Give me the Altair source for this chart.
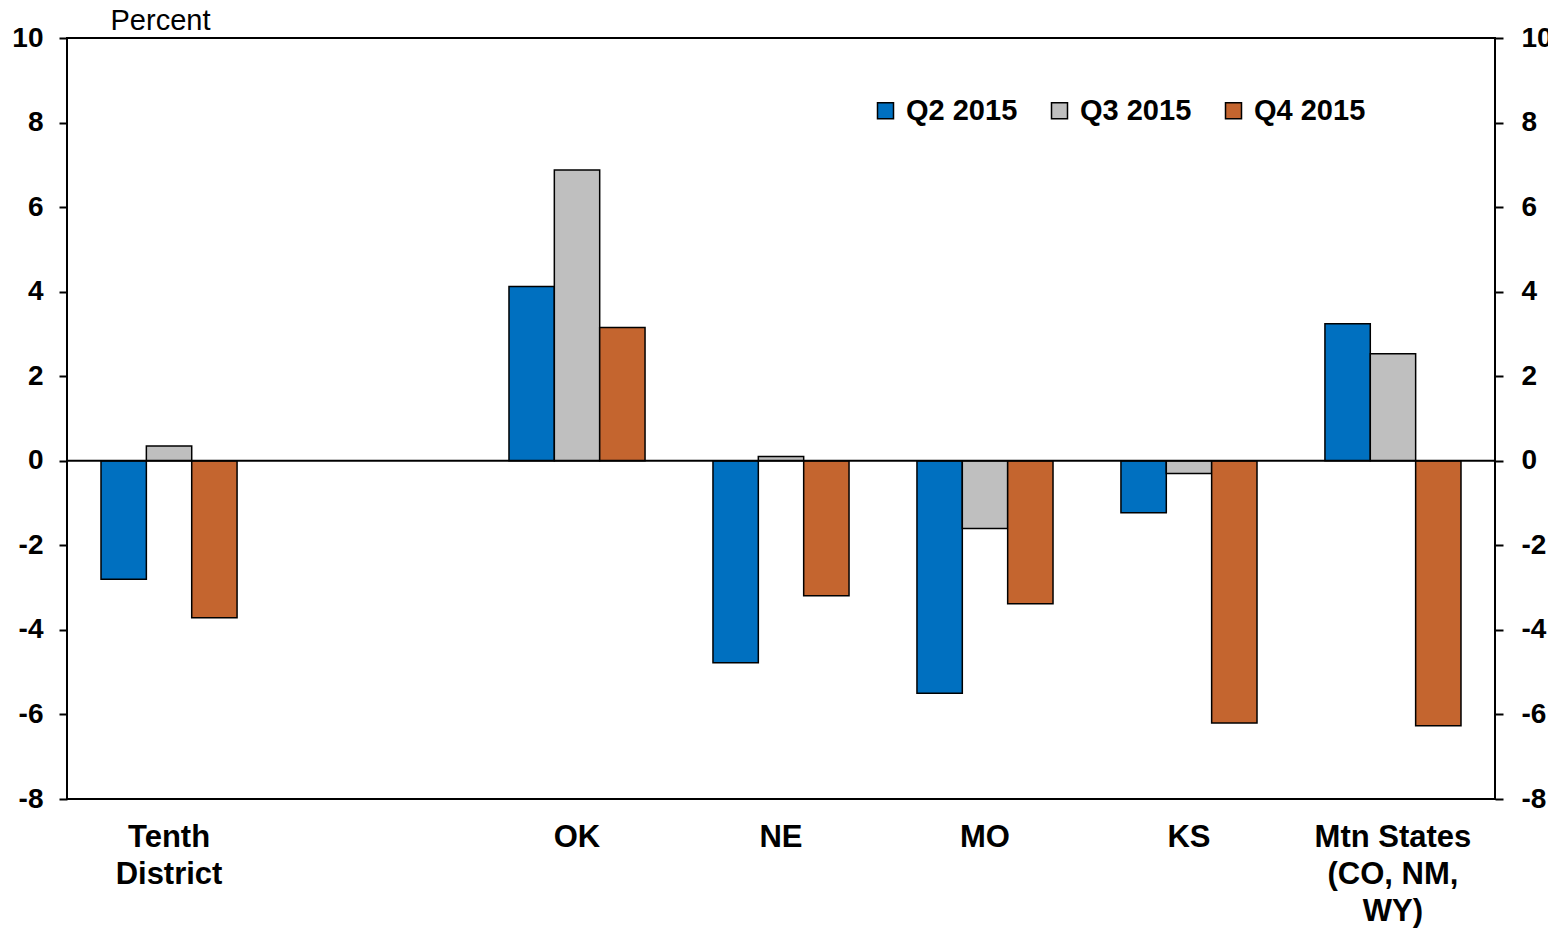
import altair as alt
import pandas as pd

categories = ["Tenth|District", " ", "OK", "NE", "MO", "KS", "Mtn States|(CO, NM,|WY)"]
quarters = ["Q2 2015", "Q3 2015", "Q4 2015"]
q2_vals = [-2.8, None, 4.12, -4.78, -5.5, -1.23, 3.24]
q3_vals = [0.35, None, 6.88, 0.1, -1.6, -0.3, 2.53]
q4_vals = [-3.71, None, 3.15, -3.19, -3.38, -6.2, -6.27]
colors = ["#0070C0", "#BFBFBF", "#C4652F"]
y_ticks = [-8, -6, -4, -2, 0, 2, 4, 6, 8, 10]

rows = []
for q, vals in zip(quarters, [q2_vals, q3_vals, q4_vals]):
    for c, v in zip(categories, vals):
        if v is not None:
            rows.append({"cat": c, "quarter": q, "value": v})
df = pd.DataFrame(rows)
zero_df = pd.DataFrame({"value": [0]})

FONT = "Liberation Sans"
yscale = alt.Scale(domain=[-8, 10], nice=False, zero=False)
ylabel_expr = "datum.value < 0 ? '-' + abs(datum.value) : '' + datum.value"

bars = alt.Chart(df).mark_bar(stroke="black", strokeWidth=1.5).encode(
    x=alt.X(
        "cat:N",
        scale=alt.Scale(domain=categories, paddingInner=0.333, paddingOuter=0.1667),
        axis=alt.Axis(
            title=None,
            labelExpr="split(datum.value, '|')",
            labelAngle=0,
            labelFont=FONT,
            labelFontSize=31,
            labelFontWeight="bold",
            labelColor="black",
            labelLineHeight=37,
            labelPadding=23,
            labelBaseline="top",
            ticks=False,
            domain=False,
        ),
    ),
    xOffset=alt.XOffset(
        "quarter:N", scale=alt.Scale(domain=quarters, paddingInner=0, paddingOuter=0)
    ),
    y=alt.Y(
        "value:Q",
        scale=yscale,
        axis=alt.Axis(
            values=y_ticks,
            labelExpr=ylabel_expr,
            title="Percent",
            titleAngle=0,
            titleAlign="left",
            titleBaseline="alphabetic",
            titleX=43,
            titleY=-9,
            titleFont=FONT,
            titleFontSize=29,
            titleFontWeight="normal",
            titleColor="black",
            labelFont=FONT,
            labelFontSize=28,
            labelFontWeight="bold",
            labelColor="black",
            labelPadding=16,
            tickSize=8,
            tickWidth=2,
            tickColor="black",
            domain=False,
            grid=False,
        ),
    ),
    color=alt.Color(
        "quarter:N",
        scale=alt.Scale(domain=quarters, range=colors),
        legend=alt.Legend(
            title=None,
            orient="none",
            legendX=804,
            legendY=58,
            direction="horizontal",
            symbolType="square",
            symbolSize=256,
            symbolStrokeColor="black",
            symbolStrokeWidth=1.5,
            symbolOpacity=1,
            labelFont=FONT,
            labelFontSize=29,
            labelFontWeight="bold",
            labelColor="black",
            labelOffset=6,
            columnPadding=27,
        ),
    ),
)

zero_rule = alt.Chart(zero_df).mark_rule(color="black", strokeWidth=2).encode(
    y=alt.Y(
        "value:Q",
        scale=yscale,
        axis=alt.Axis(
            orient="right",
            values=y_ticks,
            labelExpr=ylabel_expr,
            title=None,
            labelFont=FONT,
            labelFontSize=28,
            labelFontWeight="bold",
            labelColor="black",
            labelPadding=18,
            tickSize=8,
            tickWidth=2,
            tickColor="black",
            domain=False,
            grid=False,
        ),
    )
)

chart = (
    alt.layer(bars, zero_rule)
    .resolve_scale(y="shared")
    .resolve_axis(y="independent")
    .properties(
        width=1428,
        height=761,
        autosize=alt.AutoSizeParams(type="none"),
        padding={"left": 59, "top": 30, "right": 53, "bottom": 130},
        background="white",
    )
    .configure_view(stroke="black", strokeWidth=2)
)

chart.save("out.html", embed_options={"renderer": "svg", "actions": False})
